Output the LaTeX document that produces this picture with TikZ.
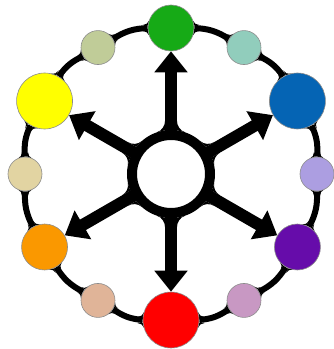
\documentclass[tikz,border=0pt]{standalone}
\usetikzlibrary{arrows.meta,backgrounds}
\definecolor{cgreen}{RGB}{22,170,22}
\definecolor{cteal}{RGB}{145,205,188}
\definecolor{cblue}{RGB}{5,100,180}
\definecolor{clav}{RGB}{172,158,225}
\definecolor{cpurple}{RGB}{102,12,170}
\definecolor{cmauve}{RGB}{200,152,195}
\definecolor{cred}{RGB}{255,0,0}
\definecolor{cpeach}{RGB}{224,180,152}
\definecolor{corange}{RGB}{250,152,0}
\definecolor{ctan}{RGB}{226,212,162}
\definecolor{cyellow}{RGB}{255,255,0}
\definecolor{csage}{RGB}{192,204,152}
% #1 centre, #2 direction, #3 body radius, #4 half width of bar, #5 fillet radius
\newcommand{\jfillet}[5]{%
  \begin{scope}[shift={#1},rotate=#2]
    \pgfmathsetmacro{\fD}{#3+#5}%
    \pgfmathsetmacro{\fO}{#4+#5}%
    \pgfmathsetmacro{\fT}{sqrt(\fD*\fD-\fO*\fO)}%
    \pgfmathsetmacro{\fA}{atan2(\fO,\fT)}%
    \pgfmathsetmacro{\fB}{asin(#4/#3)}%
    \pgfmathsetmacro{\fC}{\fA-180}%
    \foreach \s in {1,-1}{%
      \fill[black,yscale=\s] (\fB:#3) -- (\fT,#4)
        arc[start angle=-90,end angle=\fC,radius=#5]
        arc[start angle=\fA,end angle=\fB,radius=#3] -- cycle;
    }%
  \end{scope}}
\begin{document}
\begin{tikzpicture}[x=1pt,y=1pt,
  ball/.style={circle,draw=black!45,line width=0.6pt,inner sep=0pt},
  bigball/.style={ball,minimum size=56pt},
  midball/.style={ball,minimum size=46pt},
  smallball/.style={ball,minimum size=34pt},
  hub/.style={circle,draw=black,line width=10pt,fill=white,minimum size=78pt,inner sep=0pt},
  ringline/.style={line width=6pt,black},
  spoke/.style={line width=12pt,black,-{Triangle[width=32pt,length=21pt]}},
]
\useasboundingbox (0,0) rectangle (334,349);
\node[hub] (c) at (171,175) {};
\path (c.center) ++(90:146) node[midball,fill=cgreen] (n90) {};
\path (c.center) ++(60:146) node[smallball,fill=cteal] (n60) {};
\path (c.center) ++(30:146) node[bigball,fill=cblue] (n30) {};
\path (c.center) ++(0:146) node[smallball,fill=clav] (n0) {};
\path (c.center) ++(-30:146) node[midball,fill=cpurple] (n330) {};
\path (c.center) ++(-60:146) node[smallball,fill=cmauve] (n300) {};
\path (c.center) ++(-90:146) node[bigball,fill=cred] (n270) {};
\path (c.center) ++(-120:146) node[smallball,fill=cpeach] (n240) {};
\path (c.center) ++(-150:146) node[midball,fill=corange] (n210) {};
\path (c.center) ++(180:146) node[smallball,fill=ctan] (n180) {};
\path (c.center) ++(150:146) node[bigball,fill=cyellow] (n150) {};
\path (c.center) ++(120:146) node[smallball,fill=csage] (n120) {};
\begin{scope}[on background layer]
  \draw[ringline] (n90) to[bend left=15] (n60);
  \draw[ringline] (n60) to[bend left=15] (n30);
  \draw[ringline] (n30) to[bend left=15] (n0);
  \draw[ringline] (n0) to[bend left=15] (n330);
  \draw[ringline] (n330) to[bend left=15] (n300);
  \draw[ringline] (n300) to[bend left=15] (n270);
  \draw[ringline] (n270) to[bend left=15] (n240);
  \draw[ringline] (n240) to[bend left=15] (n210);
  \draw[ringline] (n210) to[bend left=15] (n180);
  \draw[ringline] (n180) to[bend left=15] (n150);
  \draw[ringline] (n150) to[bend left=15] (n120);
  \draw[ringline] (n120) to[bend left=15] (n90);
  \draw[spoke] (c.center) -- (n90);
  \draw[spoke] (c.center) -- (n30);
  \draw[spoke] (c.center) -- (n330);
  \draw[spoke] (c.center) -- (n270);
  \draw[spoke] (c.center) -- (n210);
  \draw[spoke] (c.center) -- (n150);
  % fillets where the spokes meet the hub
  \foreach \a in {90,30,-30,-90,-150,150}{\jfillet{(c.center)}{\a}{44}{6}{12}}
  % fillets where the ring meets the balls
  \foreach \n/\a/\r in {n90/90/23,n60/60/17,n30/30/28,n0/0/17,n330/-30/23,n300/-60/17,
      n270/-90/28,n240/-120/17,n210/-150/23,n180/180/17,n150/150/28,n120/120/17}{
    \jfillet{(\n.center)}{\a+90}{\r}{3}{7}
    \jfillet{(\n.center)}{\a-90}{\r}{3}{7}
  }
\end{scope}
\end{tikzpicture}
\end{document}
